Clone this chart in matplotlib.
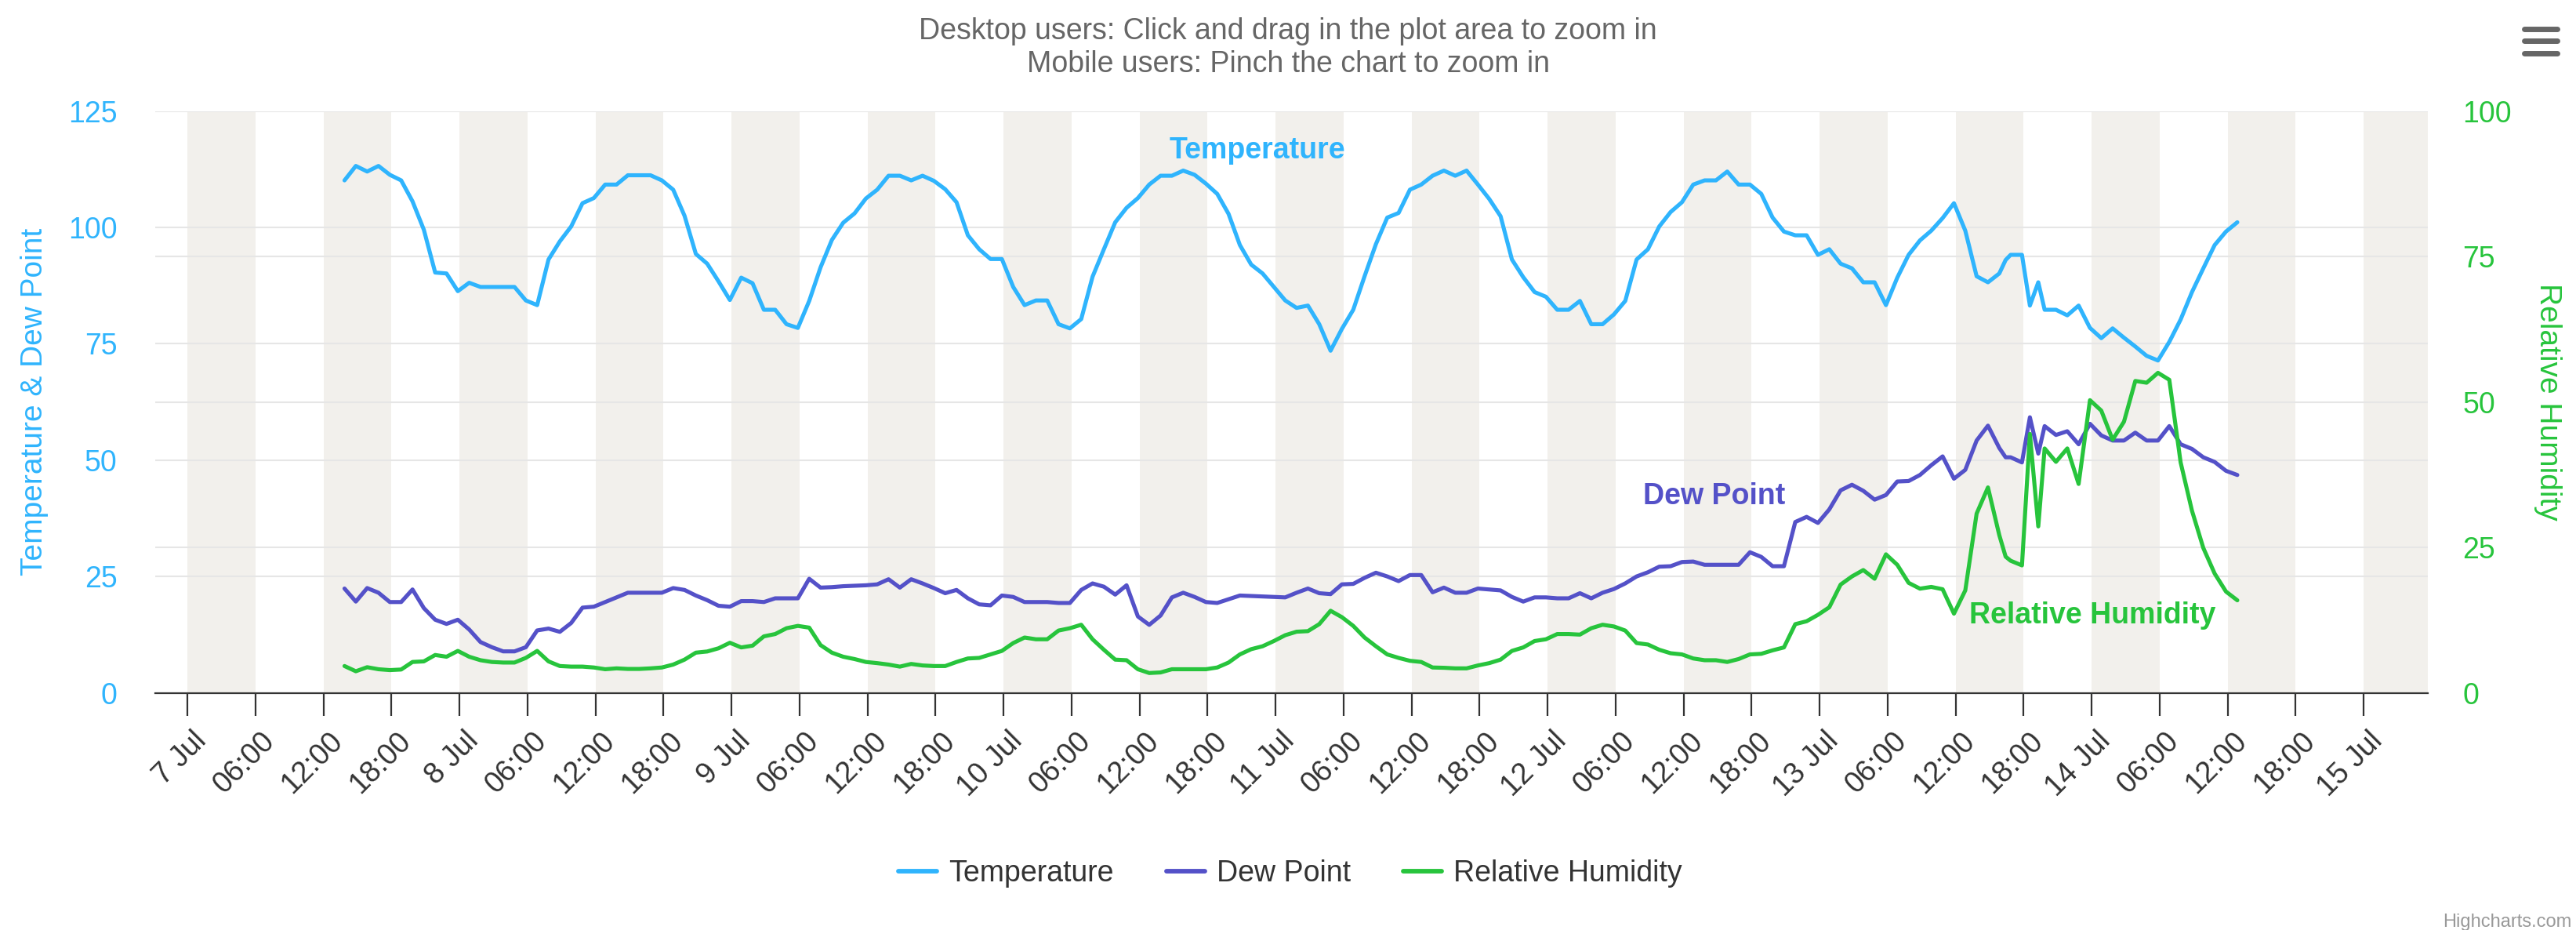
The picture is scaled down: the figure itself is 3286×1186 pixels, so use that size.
import pandas as pd
import matplotlib
matplotlib.use("Agg")
import matplotlib.pyplot as plt
import matplotlib.dates as mdates
import matplotlib.transforms as mtransforms
from matplotlib.lines import Line2D
from matplotlib.ticker import FuncFormatter

plt.rcParams['font.family'] = ['Liberation Sans', 'DejaVu Sans']

start = pd.Timestamp('2023-07-07 00:00')

# observation times, hours after 7 Jul 00:00
obs_hours = [
    13.85, 14.85, 15.85, 16.85, 17.85, 18.85, 19.85, 20.85, 21.85, 22.85,
    23.85, 24.85, 25.85, 26.85, 27.85, 28.85, 29.85, 30.85, 31.85, 32.85,
    33.85, 34.85, 35.85, 36.85, 37.85, 38.85, 39.85, 40.85, 41.85, 42.85,
    43.85, 44.85, 45.85, 46.85, 47.85, 48.85, 49.85, 50.85, 51.85, 52.85,
    53.85, 54.85, 55.85, 56.85, 57.85, 58.85, 59.85, 60.85, 61.85, 62.85,
    63.85, 64.85, 65.85, 66.85, 67.85, 68.85, 69.85, 70.85, 71.85, 72.85,
    73.85, 74.85, 75.85, 76.85, 77.85, 78.85, 79.85, 80.85, 81.85, 82.85,
    83.85, 84.85, 85.85, 86.85, 87.85, 88.85, 89.85, 90.85, 91.85, 92.85,
    93.85, 94.85, 95.85, 96.85, 97.85, 98.85, 99.85, 100.85, 101.85, 102.85,
    103.85, 104.85, 105.85, 106.85, 107.85, 108.85, 109.85, 110.85, 111.85, 112.85,
    113.85, 114.85, 115.85, 116.85, 117.85, 118.85, 119.85, 120.85, 121.85, 122.85,
    123.85, 124.85, 125.85, 126.85, 127.85, 128.85, 129.85, 130.85, 131.85, 132.85,
    133.85, 134.85, 135.85, 136.85, 137.85, 138.85, 139.85, 140.85, 141.85, 142.85,
    143.85, 144.85, 145.85, 146.85, 147.85, 148.85, 149.85, 150.85, 151.85, 152.85,
    153.85, 154.85, 155.85, 156.85, 157.85, 158.85, 159.85, 160.41, 160.85, 161.85,
    162.55, 163.29, 163.85, 164.85, 165.85, 166.85, 167.85, 168.85, 169.85, 170.85,
    171.85, 172.85, 173.85, 174.85, 175.85, 176.85, 177.85, 178.85, 179.85, 180.85,
]

temperature = [
    110.1, 113.2, 112.0, 113.2, 111.3, 110.1, 105.6, 99.5, 90.3, 90.1,
    86.3, 88.1, 87.2, 87.2, 87.2, 87.2, 84.3, 83.3, 93.1, 97.0,
    100.2, 105.2, 106.3, 109.2, 109.2, 111.2, 111.2, 111.2, 110.1, 108.1,
    102.5, 94.3, 92.2, 88.4, 84.4, 89.2, 88.0, 82.3, 82.3, 79.2,
    78.4, 84.2, 91.4, 97.3, 101.0, 103.0, 106.2, 108.1, 111.1, 111.1,
    110.1, 111.1, 110.0, 108.2, 105.4, 98.3, 95.3, 93.2, 93.2, 87.2,
    83.3, 84.3, 84.3, 79.2, 78.3, 80.3, 89.4, 95.3, 101.1, 104.2,
    106.3, 109.2, 111.1, 111.1, 112.2, 111.3, 109.4, 107.2, 102.9, 96.2,
    92.0, 90.1, 87.2, 84.3, 82.7, 83.2, 79.2, 73.5, 78.2, 82.3,
    89.5, 96.4, 102.1, 103.1, 108.1, 109.2, 111.1, 112.2, 111.1, 112.2,
    109.2, 106.1, 102.4, 93.1, 89.3, 86.1, 85.1, 82.3, 82.3, 84.2,
    79.2, 79.2, 81.3, 84.2, 93.1, 95.3, 100.2, 103.3, 105.4, 109.2,
    110.1, 110.1, 112.0, 109.2, 109.2, 107.2, 102.1, 99.1, 98.3, 98.3,
    94.1, 95.3, 92.2, 91.2, 88.2, 88.2, 83.3, 89.2, 94.1, 97.2,
    99.3, 102.0, 105.2, 99.3, 89.5, 88.2, 90.1, 93.0, 94.1, 94.1,
    83.2, 88.2, 82.3, 82.3, 81.1, 83.2, 78.4, 76.2, 78.3, 76.3,
    74.4, 72.4, 71.4, 75.4, 80.2, 86.1, 91.2, 96.2, 99.1, 101.1,
]

dew_point = [
    22.4, 19.6, 22.5, 21.5, 19.5, 19.5, 22.2, 18.2, 15.7, 14.8,
    15.7, 13.6, 10.9, 9.8, 8.9, 8.9, 9.8, 13.4, 13.8, 13.1,
    15.0, 18.3, 18.5, 19.5, 20.5, 21.5, 21.5, 21.5, 21.5, 22.5,
    22.1, 20.9, 19.9, 18.7, 18.5, 19.7, 19.7, 19.5, 20.3, 20.3,
    20.3, 24.5, 22.6, 22.7, 22.9, 23.0, 23.1, 23.3, 24.4, 22.6,
    24.4, 23.5, 22.5, 21.4, 22.1, 20.3, 19.0, 18.8, 20.9, 20.6,
    19.5, 19.5, 19.5, 19.3, 19.3, 22.1, 23.5, 22.8, 21.1, 23.1,
    16.4, 14.6, 16.6, 20.5, 21.5, 20.6, 19.5, 19.3, 20.1, 20.9,
    20.8, 20.7, 20.6, 20.5, 21.5, 22.4, 21.4, 21.2, 23.3, 23.4,
    24.7, 25.8, 25.0, 24.0, 25.3, 25.3, 21.6, 22.6, 21.5, 21.5,
    22.4, 22.2, 22.0, 20.6, 19.6, 20.5, 20.5, 20.3, 20.3, 21.4,
    20.3, 21.5, 22.3, 23.5, 25.0, 25.9, 27.1, 27.2, 28.1, 28.2,
    27.5, 27.5, 27.5, 27.5, 30.2, 29.2, 27.2, 27.2, 36.7, 37.8,
    36.5, 39.4, 43.5, 44.7, 43.4, 41.5, 42.5, 45.4, 45.5, 46.8,
    48.9, 50.8, 46.0, 47.9, 54.2, 57.4, 52.6, 50.6, 50.6, 49.5,
    59.2, 51.4, 57.3, 55.4, 56.2, 53.4, 57.8, 55.3, 54.2, 54.2,
    55.9, 54.2, 54.2, 57.3, 53.4, 52.4, 50.6, 49.6, 47.7, 46.8,
]

humidity = [
    4.6, 3.7, 4.4, 4.05, 3.9, 4.0, 5.3, 5.4, 6.5, 6.2,
    7.2, 6.2, 5.6, 5.3, 5.2, 5.2, 6.0, 7.2, 5.4, 4.6,
    4.5, 4.5, 4.35, 4.05, 4.2, 4.1, 4.1, 4.2, 4.35, 4.85,
    5.7, 6.9, 7.1, 7.65, 8.6, 7.8, 8.1, 9.7, 10.1, 11.1,
    11.5, 11.2, 8.2, 6.9, 6.2, 5.8, 5.3, 5.1, 4.85, 4.5,
    4.96, 4.7, 4.6, 4.6, 5.3, 5.9, 6.0, 6.6, 7.2, 8.55,
    9.5, 9.2, 9.2, 10.7, 11.1, 11.7, 9.2, 7.4, 5.7, 5.6,
    4.05, 3.4, 3.5, 4.05, 4.05, 4.05, 4.05, 4.35, 5.2, 6.6,
    7.5, 8.0, 8.9, 9.9, 10.5, 10.6, 11.8, 14.1, 13.0, 11.5,
    9.5, 8.0, 6.6, 6.0, 5.5, 5.3, 4.35, 4.3, 4.2, 4.2,
    4.7, 5.1, 5.7, 7.2, 7.8, 8.9, 9.2, 10.1, 10.1, 10.0,
    11.1, 11.7, 11.4, 10.7, 8.55, 8.3, 7.4, 6.8, 6.6, 5.9,
    5.6, 5.6, 5.3, 5.8, 6.6, 6.7, 7.3, 7.8, 11.8, 12.3,
    13.4, 14.7, 18.6, 20.0, 21.1, 19.6, 23.8, 22.0, 18.9, 17.9,
    18.2, 17.8, 13.6, 17.6, 30.8, 35.3, 27.1, 23.4, 22.7, 21.9,
    44.5, 28.6, 42.0, 39.7, 42.0, 35.9, 50.3, 48.5, 43.5, 46.6,
    53.6, 53.3, 55.0, 53.8, 39.6, 31.3, 24.9, 20.5, 17.4, 15.9,
]

left_ticks = [0, 25, 50, 75, 100, 125]
right_ticks = [0, 25, 50, 75, 100]

temp_color = '#2fb4fd'
dew_color = '#5451c8'
rh_color = '#27c43c'
band_color = '#f2f0ec'
grid_color = '#e6e6e6'

times = start + pd.to_timedelta(obs_hours, unit='h')

W, H = 3286, 1186
fig = plt.figure(figsize=(W / 100, H / 100), dpi=100)
ax = fig.add_axes([198 / W, 1 - 883.5 / H, (3097 - 198) / W, (883.5 - 141.6) / H])
ax2 = ax.twinx()

# alternating day/night bands
for day in pd.date_range('2023-07-07', '2023-07-15', freq='D'):
    ax.axvspan(day, day + pd.Timedelta(hours=6), color=band_color, lw=0, zorder=0)
    ax.axvspan(day + pd.Timedelta(hours=12), day + pd.Timedelta(hours=18),
               color=band_color, lw=0, zorder=0)

lw = 3.7
ln_t, = ax.plot(times, temperature, color=temp_color, lw=lw, solid_joinstyle='round',
                solid_capstyle='round', zorder=3, label='Temperature')
ln_d, = ax.plot(times, dew_point, color=dew_color, lw=lw, solid_joinstyle='round',
                solid_capstyle='round', zorder=3, label='Dew Point')
ln_h, = ax2.plot(times, humidity, color=rh_color, lw=lw, solid_joinstyle='round',
                 solid_capstyle='round', zorder=3, label='Relative Humidity')

ax.set_xlim(start - pd.Timedelta(hours=2.85), start + pd.Timedelta(hours=197.66))
ax.set_ylim(0, 125)
ax2.set_ylim(0, 100)

ax.set_yticks(left_ticks)
ax2.set_yticks(right_ticks)

# grid lines for both axes, kept under the series
ax.set_axisbelow(True)
ax.yaxis.grid(True, color=grid_color, lw=1.5)
for v in right_ticks[1:-1]:
    ax.axhline(v * 125 / 100, color=grid_color, lw=1.5, zorder=0.5)

tick_times = pd.date_range('2023-07-07', '2023-07-15', freq='6h')
ax.set_xticks(tick_times)


def fmt(x, pos):
    d = mdates.num2date(x)
    if d.hour == 0:
        return f"{d.day} Jul"
    return d.strftime("%H:%M")


ax.xaxis.set_major_formatter(FuncFormatter(fmt))

for s in ['top', 'left', 'right']:
    ax.spines[s].set_visible(False)
    ax2.spines[s].set_visible(False)
ax2.spines['bottom'].set_visible(False)
ax.spines['bottom'].set_color('#333333')
ax.spines['bottom'].set_linewidth(1.6)

ax.tick_params(axis='x', direction='out', length=21, width=1.6, color='#333333',
               labelsize=27, labelcolor='#333333', pad=10)
ax.tick_params(axis='y', length=0, pad=35, labelsize=27, labelcolor=temp_color)
ax2.tick_params(axis='y', length=0, pad=32, labelsize=27, labelcolor=rh_color)

offset = mtransforms.ScaledTranslation(6 / 100, 0, fig.dpi_scale_trans)
for lab in ax.get_xticklabels():
    lab.set_rotation(45)
    lab.set_ha('right')
    lab.set_va('top')
    lab.set_rotation_mode('anchor')
    lab.set_transform(lab.get_transform() + offset)

# series labels
ax.text(start + pd.Timedelta(hours=94.4), 116.5, 'Temperature', color=temp_color,
        fontsize=27, fontweight='bold', ha='center', va='center', zorder=5)
ax.text(start + pd.Timedelta(hours=134.7), 42.2, 'Dew Point', color=dew_color,
        fontsize=27, fontweight='bold', ha='center', va='center', zorder=5)
ax2.text(start + pd.Timedelta(hours=168.1), 13.3, 'Relative Humidity', color=rh_color,
         fontsize=27, fontweight='bold', ha='center', va='center', zorder=5)

# axis titles
fig.text(44 / W, 1 - 512 / H, 'Temperature & Dew Point', rotation=90, color=temp_color,
         fontsize=28, ha='center', va='center')
fig.text(3250 / W, 1 - 512 / H, 'Relative Humidity', rotation=270, color=rh_color,
         fontsize=28, ha='center', va='center')

# title
fig.text(0.5, 1 - 49.5 / H, 'Desktop users: Click and drag in the plot area to zoom in',
         color='#666666', fontsize=27, ha='center', va='baseline')
fig.text(0.5, 1 - 92 / H, 'Mobile users: Pinch the chart to zoom in',
         color='#666666', fontsize=27, ha='center', va='baseline')

leg = fig.legend(handles=[ln_t, ln_d, ln_h], loc='center', bbox_to_anchor=(0.5009, 1 - 1114 / H),
                 ncol=3, frameon=False, fontsize=27, labelcolor='#333333',
                 handlelength=1.3, handletextpad=0.4, columnspacing=1.8)
for h in leg.legend_handles:
    h.set_linewidth(4.2)

# context menu icon
for yy in [37, 52, 68]:
    fig.add_artist(Line2D([3220 / W, 3262 / W], [1 - yy / H, 1 - yy / H], color='#666666',
                          lw=5, solid_capstyle='round', transform=fig.transFigure))

fig.text(3280 / W, 1 - 1176 / H, 'Highcharts.com', color='#999999', fontsize=17,
         ha='right', va='center')

fig.savefig('out.png', dpi=100)
